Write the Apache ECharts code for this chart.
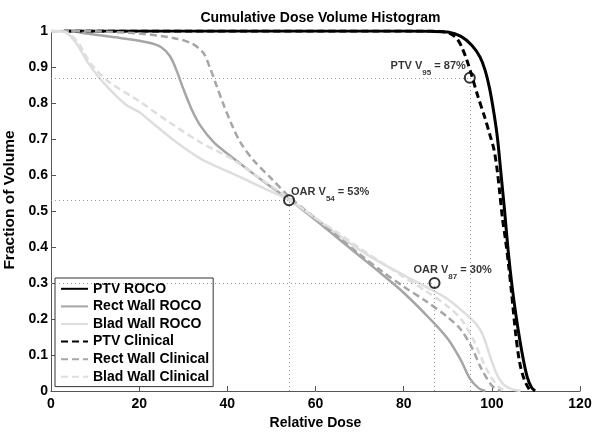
<!DOCTYPE html>
<html><head><meta charset="utf-8">
<script src="https://cdn.jsdelivr.net/npm/echarts@6/dist/echarts.min.js"></script>
<style>html,body{margin:0;padding:0;background:#fff}#c{width:600px;height:434px}</style>
</head><body><div id="c"></div>
<script>
// ---- data ----
var seriesNames = ['PTV ROCO','Rect Wall ROCO','Blad Wall ROCO','PTV Clinical','Rect Wall Clinical','Blad Wall Clinical'];

var ptvRocoDose = [3, 80, 86, 90, 93, 95.5, 97.3, 98.5, 99.5, 100.5, 101.3, 102.1, 102.9, 103.7, 104.6, 105.6, 106.8, 108, 109, 109.8];
var ptvRocoFrac = [1, 1, 0.999, 0.997, 0.985, 0.96, 0.928, 0.89, 0.84, 0.77, 0.7, 0.6, 0.5, 0.39, 0.29, 0.2, 0.11, 0.04, 0.01, 0];

var rectRocoDose = [0, 4, 8, 16, 22, 25, 27, 28.5, 30, 32, 34, 37, 41, 45, 49, 54, 60, 65, 70, 75, 80, 86, 90, 93, 95, 97, 98.5];
var rectRocoFrac = [1, 1, 0.993, 0.98, 0.968, 0.955, 0.93, 0.89, 0.84, 0.78, 0.735, 0.69, 0.65, 0.612, 0.575, 0.532, 0.475, 0.425, 0.375, 0.325, 0.273, 0.2, 0.145, 0.085, 0.035, 0.008, 0];

var bladRocoDose = [0, 3, 5.5, 8.5, 12, 17, 20, 22, 28, 34, 41, 48, 54, 60, 65, 70, 75, 80, 85, 90, 94, 96.5, 98, 99.5, 101, 102.5, 104.5, 106.5];
var bladRocoFrac = [1, 0.998, 0.97, 0.91, 0.855, 0.795, 0.775, 0.755, 0.695, 0.645, 0.605, 0.565, 0.53, 0.48, 0.435, 0.392, 0.355, 0.322, 0.29, 0.255, 0.215, 0.185, 0.155, 0.1, 0.05, 0.02, 0.005, 0];

var ptvClinDose = [3, 85, 89, 91, 92.3, 93.2, 94.3, 95.4, 96.8, 98.4, 99.6, 100.5, 101.2, 101.8, 102.4, 103.1, 103.8, 104.5, 105.4, 106.3, 107.4, 108.7];
var ptvClinFrac = [1, 1, 0.998, 0.99, 0.975, 0.955, 0.92, 0.878, 0.82, 0.76, 0.71, 0.67, 0.615, 0.55, 0.48, 0.42, 0.35, 0.27, 0.16, 0.08, 0.03, 0];

var rectClinDose = [0, 10, 20, 28, 32, 34.5, 36, 37.5, 39, 41, 43, 46, 50, 54, 60, 65, 70, 75, 80, 85, 90, 93, 95.5, 97.5, 100, 102];
var rectClinFrac = [1, 0.999, 0.993, 0.98, 0.965, 0.94, 0.9, 0.85, 0.8, 0.74, 0.69, 0.64, 0.59, 0.54, 0.48, 0.43, 0.38, 0.333, 0.29, 0.25, 0.205, 0.17, 0.12, 0.065, 0.015, 0];

var bladClinDose = [0, 3, 6, 9, 13, 20, 27, 34, 41, 47.5, 54, 60, 65, 70, 75, 80, 85, 90, 93, 95.5, 97.5, 99.5, 101.5, 103];
var bladClinFrac = [1, 0.998, 0.97, 0.91, 0.86, 0.805, 0.745, 0.69, 0.645, 0.59, 0.535, 0.48, 0.44, 0.397, 0.357, 0.317, 0.278, 0.235, 0.2, 0.15, 0.095, 0.045, 0.012, 0];

var markerDose = [95, 54, 87];
var markerFrac = [0.87, 0.53, 0.30];
var markerPrefix = ['PTV V', 'OAR V', 'OAR V'];
var markerSub = ['95', '54', '87'];
var markerSuffix = [' = 87%', ' = 53%', ' = 30%'];

var xTicks = [0, 20, 40, 60, 80, 100, 120];
var yTicks = [0, 0.1, 0.2, 0.3, 0.4, 0.5, 0.6, 0.7, 0.8, 0.9, 1];

// ---- build ----
function pairs(d, f) { return d.map(function (x, i) { return [x, f[i]]; }); }
var doses = [ptvRocoDose, rectRocoDose, bladRocoDose, ptvClinDose, rectClinDose, bladClinDose];
var fracs = [ptvRocoFrac, rectRocoFrac, bladRocoFrac, ptvClinFrac, rectClinFrac, bladClinFrac];
var styles = [
  { color: '#000000', width: 3, type: 'solid' },
  { color: '#a6a6a6', width: 2.5, type: 'solid' },
  { color: '#dedede', width: 2.5, type: 'solid' },
  { color: '#000000', width: 3, type: [7, 4] },
  { color: '#a6a6a6', width: 2.5, type: [7, 4] },
  { color: '#dedede', width: 2.5, type: [7, 4] }
];
var font = 'Liberation Sans, Arial, Helvetica, sans-serif';

var series = seriesNames.map(function (n, i) {
  return {
    name: n, type: 'line', symbol: 'none', showSymbol: false, smooth: 0.3,
    data: pairs(doses[i], fracs[i]),
    itemStyle: { color: styles[i].color },
    lineStyle: { color: styles[i].color, width: styles[i].width, type: styles[i].type },
    emphasis: { disabled: true }, silent: true
  };
});

var labelPlace = [
  { position: 'left', offset: [7, -12] },
  { position: 'right', offset: [-9, -8] },
  { position: 'right', offset: [-32, -13] }
];
var markerData = markerDose.map(function (d, i) {
  return {
    value: [d, markerFrac[i]],
    label: {
      show: true, position: labelPlace[i].position, offset: labelPlace[i].offset,
      formatter: '{m|' + markerPrefix[i] + '}{s|' + markerSub[i] + '}{m|' + markerSuffix[i] + '}'
    }
  };
});
var guideLines = [];
markerDose.forEach(function (d, i) {
  guideLines.push([{ coord: [0, markerFrac[i]] }, { coord: [d, markerFrac[i]] }]);
  guideLines.push([{ coord: [d, 0] }, { coord: [d, markerFrac[i]] }]);
});

series.unshift({
  name: 'markers', type: 'scatter', symbol: 'circle', symbolSize: 10, z: 5,
  itemStyle: { color: 'rgba(0,0,0,0)', borderColor: '#000', borderWidth: 2 },
  data: markerData, silent: true,
  label: {
    show: true, color: '#000',
    rich: {
      m: { fontFamily: font, fontSize: 11, fontWeight: 'bold', color: '#000', lineHeight: 22, verticalAlign: 'middle' },
      s: { fontFamily: font, fontSize: 8, fontWeight: 'bold', color: '#000', lineHeight: 9, verticalAlign: 'bottom' }
    }
  },
  markLine: {
    silent: true, symbol: ['none', 'none'], animation: false,
    label: { show: false },
    lineStyle: { color: '#999', width: 1, type: [1, 3] },
    emphasis: { disabled: true },
    data: guideLines
  }
});

var chart = echarts.init(document.getElementById('c'), null, { renderer: 'canvas' });
chart.setOption({
  animation: false,
  backgroundColor: '#fff',
  title: {
    text: 'Cumulative Dose Volume Histogram', left: 315.5, textAlign: 'center', top: 6,
    textStyle: { fontFamily: font, fontSize: 14, fontWeight: 'bold', color: '#000' }
  },
  grid: { left: 51, right: 20, top: 31, bottom: 43, containLabel: false, outerBoundsMode: 'none' },
  xAxis: {
    type: 'value', min: xTicks[0], max: xTicks[xTicks.length - 1], interval: xTicks[1] - xTicks[0],
    name: 'Relative Dose', nameLocation: 'middle', nameGap: 24,
    nameTextStyle: { fontFamily: font, fontSize: 14, fontWeight: 'bold', color: '#000' },
    axisLine: { show: true, lineStyle: { color: '#555', width: 1 } },
    axisTick: { show: true, inside: true, length: 5, lineStyle: { color: '#555' } },
    axisLabel: { fontFamily: font, fontSize: 14, fontWeight: 'bold', color: '#000', margin: 6 },
    splitLine: { show: false }
  },
  yAxis: {
    type: 'value', min: yTicks[0], max: yTicks[yTicks.length - 1], interval: 0.1,
    name: 'Fraction of Volume', nameLocation: 'middle', nameGap: 29,
    nameTextStyle: { fontFamily: font, fontSize: 15.5, fontWeight: 'bold', color: '#000', padding: [0, 0, 0, 22] },
    axisLine: { show: true, lineStyle: { color: '#555', width: 1 } },
    axisTick: { show: true, inside: true, length: 5, lineStyle: { color: '#555' } },
    axisLabel: { fontFamily: font, fontSize: 14, fontWeight: 'bold', color: '#000', margin: 3 },
    splitLine: { show: false }
  },
  legend: {
    data: seriesNames, orient: 'vertical', left: 55, top: 278,
    backgroundColor: '#fff', borderColor: '#333', borderWidth: 1,
    padding: [2, 4, 1, 5], itemGap: 0, itemWidth: 27, itemHeight: 14,
    itemStyle: { opacity: 0 },
    textStyle: { fontFamily: font, fontSize: 14, fontWeight: 'bold', color: '#000', lineHeight: 17.6 },
    selectedMode: false
  },
  series: series
});
</script></body></html>
